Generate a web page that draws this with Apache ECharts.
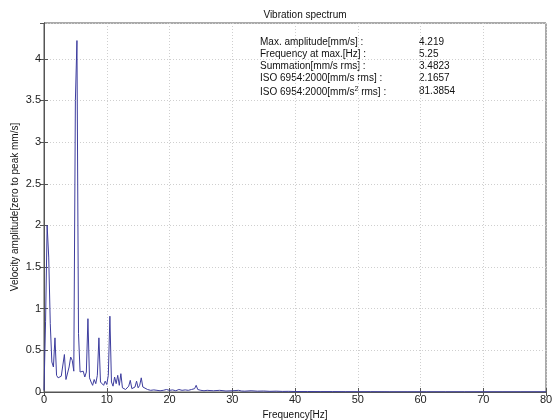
<!DOCTYPE html>
<html>
<head>
<meta charset="utf-8">
<script src="https://cdn.jsdelivr.net/npm/echarts@6/dist/echarts.min.js"></script>
<style>html,body{margin:0;padding:0;background:#fff}#c{width:559px;height:420px}</style>
</head>
<body>
<div id="c"></div>
<script>
// Frequency [Hz]
var freqs = [
 0, 0.25, 0.5, 0.75, 1.0, 1.25, 1.5, 1.75, 2.0, 2.25, 2.5, 2.75, 3.0, 3.25, 3.5, 3.75,
 4.0, 4.25, 4.5, 4.75, 5.0, 5.25, 5.5, 5.75, 6.0, 6.25, 6.5, 6.75, 7.0, 7.25, 7.5, 7.75,
 8.0, 8.25, 8.5, 8.75, 9.0, 9.25, 9.5, 9.75, 10.0, 10.25, 10.5, 10.75, 11.0, 11.25, 11.5, 11.75,
 12.0, 12.25, 12.5, 12.75, 13.0, 13.25, 13.5, 13.75, 14.0, 14.25, 14.5, 14.75, 15.0, 15.25, 15.5, 15.75,
 16.0, 16.5, 17.0, 17.5, 18.0, 18.5, 19.0, 19.5, 20.0, 20.5, 21.0, 21.5, 22.0, 22.5, 23.0, 23.5,
 24.0, 24.25, 24.5, 25.0, 25.5, 26.0, 27.0, 28.0, 29.0, 30.0, 31.0, 31.5, 32.0, 33.0, 34.0, 35.0,
 36.0, 37.0, 38.0, 39.0, 40.0, 42.0, 44.0, 46.0, 48.0, 50.0, 52.0, 55.0, 58.0, 61.0, 64.0, 67.0,
 70.0, 73.0, 76.0, 80.0
];
// Velocity amplitude [mm/s, zero to peak]
var amps = [
 0.02, 0.85, 2.0, 1.62, 0.82, 0.36, 0.30, 0.65, 0.20, 0.17, 0.15, 0.19, 0.17, 0.45, 0.15, 0.16,
 0.30, 0.42, 0.38, 0.25, 3.5, 4.219, 0.70, 0.24, 0.22, 0.25, 0.18, 0.24, 0.88, 0.17, 0.12, 0.08,
 0.15, 0.10, 0.20, 0.65, 0.12, 0.10, 0.08, 0.13, 0.09, 0.20, 0.91, 0.12, 0.07, 0.18, 0.10, 0.20,
 0.08, 0.22, 0.05, 0.04, 0.03, 0.05, 0.07, 0.14, 0.04, 0.03, 0.06, 0.13, 0.05, 0.08, 0.17, 0.06,
 0.04, 0.03, 0.02, 0.025, 0.02, 0.015, 0.02, 0.03, 0.02, 0.025, 0.015, 0.03, 0.02, 0.025, 0.02, 0.03,
 0.04, 0.08, 0.03, 0.02, 0.015, 0.02, 0.015, 0.02, 0.012, 0.015, 0.02, 0.012, 0.01, 0.015, 0.01, 0.012,
 0.008, 0.01, 0.007, 0.008, 0.006, 0.006, 0.005, 0.005, 0.004, 0.004, 0.004, 0.003, 0.003, 0.003, 0.003, 0.003,
 0.003, 0.003, 0.003, 0.003
];
var xTicks = [0, 10, 20, 30, 40, 50, 60, 70, 80];
var yTicks = [0, 0.5, 1, 1.5, 2, 2.5, 3, 3.5, 4];
var yAxisTitle = 'Velocity amplitude[zero to peak mm/s]';
var infoLabels = ['Max. amplitude[mm/s] :', 'Frequency at max.[Hz] :', 'Summation[mm/s rms] :', 'ISO 6954:2000[mm/s rms] :', 'ISO 6954:2000[mm/s{sup|2} rms] :'];
var infoValues = ['4.219', '5.25', '3.4823', '2.1657', '81.3854'];

var seriesData = freqs.map(function (f, i) { return [f, amps[i]]; });
var FONT = 'Liberation Sans, Arial, sans-serif';

var chart = echarts.init(document.getElementById('c'), null, { renderer: 'canvas' });

var graphics = [{
  type: 'text', x: 15, y: 207, rotation: Math.PI / 2,
  style: { text: yAxisTitle, fontFamily: FONT, fontSize: 10, fill: '#111', align: 'center', verticalAlign: 'middle' }
}];
infoLabels.forEach(function (t, i) {
  graphics.push({
    type: 'text', left: 260, top: 37 + i * 12.2,
    style: { text: t, fontFamily: FONT, fontSize: 10, fill: '#111',
      rich: { sup: { fontSize: 7, verticalAlign: 'top', padding: [0, 0, 5, 0], fontFamily: FONT, fill: '#111' } } }
  });
  graphics.push({
    type: 'text', left: 419, top: 37 + i * 12.2,
    style: { text: infoValues[i], fontFamily: FONT, fontSize: 10, fill: '#111' }
  });
});

var gridLine = { show: true, lineStyle: { color: '#cfcfcf', type: [1, 2], width: 1 } };

chart.setOption({
  animation: false,
  backgroundColor: '#fff',
  title: {
    text: 'Vibration spectrum', left: 300, top: 5, textAlign: 'center',
    textStyle: { fontFamily: FONT, fontSize: 10, fontWeight: 'normal', color: '#111' }
  },
  grid: { left: 44, right: 13, top: 23, bottom: 28, show: true, borderColor: '#555', borderWidth: 1,
    containLabel: false, outerBoundsMode: 'none' },
  xAxis: [{
    type: 'value', min: 0, max: 80, interval: 10,
    name: 'Frequency[Hz]', nameLocation: 'middle', nameGap: 11,
    nameTextStyle: { fontFamily: FONT, fontSize: 10, color: '#111' },
    axisLine: { show: true, lineStyle: { color: '#555' } },
    axisTick: { show: true, inside: true, length: 4, lineStyle: { color: '#555' } },
    axisLabel: { fontFamily: FONT, fontSize: 11, color: '#222', margin: 2,
      formatter: function (v) { return xTicks.indexOf(v) >= 0 ? String(v) : ''; } },
    splitLine: gridLine
  }, {
    type: 'value', min: 0, max: 80, interval: 10, position: 'top',
    axisLine: { show: true, lineStyle: { color: '#555' } },
    axisTick: { show: true, inside: true, length: 4, lineStyle: { color: '#555' } },
    axisLabel: { show: false }, splitLine: { show: false }
  }],
  yAxis: [{
    type: 'value', min: 0, max: 4.43, interval: 0.5,
    axisLine: { show: true, lineStyle: { color: '#555' } },
    axisTick: { show: true, inside: true, length: 4, lineStyle: { color: '#555' } },
    axisLabel: { fontFamily: FONT, fontSize: 11, color: '#222', margin: 3, showMaxLabel: false,
      formatter: function (v) { return yTicks.indexOf(v) >= 0 ? String(v) : ''; } },
    splitLine: gridLine
  }, {
    type: 'value', min: 0, max: 4.43, interval: 0.5, position: 'right',
    axisLine: { show: true, lineStyle: { color: '#555' } },
    axisTick: { show: true, inside: true, length: 4, lineStyle: { color: '#555' } },
    axisLabel: { show: false }, splitLine: { show: false }
  }],
  graphic: graphics,
  series: [{
    type: 'line', data: seriesData, xAxisIndex: 0, yAxisIndex: 0,
    showSymbol: false, symbol: 'none',
    lineStyle: { color: '#3d3d9e', width: 1 }
  }]
});
</script>
</body>
</html>
